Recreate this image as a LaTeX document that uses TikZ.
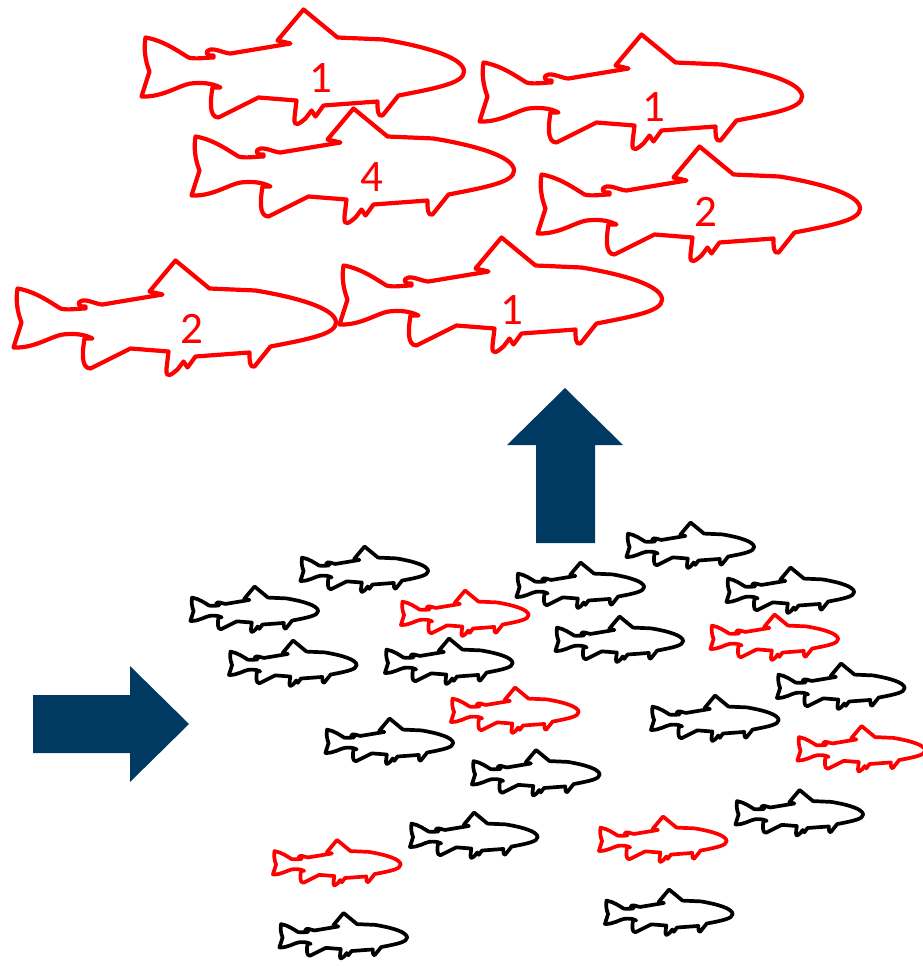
\documentclass[tikz,border=0pt]{standalone}
\usepackage{fontspec}
\setmainfont{Carlito}
\definecolor{navy}{HTML}{003A63}
\tikzset{
  x=1pt,y=-1pt,
  bigfish/.style={draw=red,line width=4.2pt,line join=round},
  smallfish/.style={line width=3.7pt,line join=round},
  count/.style={text=red,font=\fontsize{45}{45}\selectfont,inner sep=0pt},
  blockarrow/.style={fill=navy,draw=none}
}
\newcommand{\fishpath}{
  (5,28) .. controls (23,31) and (38,42) .. (48,48)
  .. controls (55,50) and (65,48) .. (73,48)
  -- (73,46) .. controls (65,47) and (64,41) .. (70,40)
  .. controls (75,39) and (85,44) .. (90,44)
  -- (150,34) -- (137,31) -- (163,0) -- (197,28)
  -- (243,30) .. controls (285,37) and (323.5,48) .. (323.5,62)
  .. controls (323.5,73) and (300,78) .. (258,86)
  -- (242,106) .. controls (237,108) and (237,100) .. (237,92)
  -- (183,96) -- (175,107) -- (171,101) -- (165,109)
  .. controls (160,113) and (153,120) .. (154,108)
  -- (156,91) -- (118,88) -- (78,108)
  .. controls (68,108) and (70,90) .. (72,78)
  -- (80,78) .. controls (70,73) and (60,73) .. (50,74)
  .. controls (38,76) and (22,88) .. (1,87)
  -- (9,62) .. controls (5,52) and (3,40) .. (5,28) -- cycle
}
\newcommand{\bigf}[2]{\draw[bigfish,shift={(#1,#2)}] \fishpath;}
\newcommand{\smallf}[3]{\draw[smallfish,draw=#3,shift={(#1,#2)},scale=0.396] \fishpath;}
\begin{document}
\begin{tikzpicture}
\useasboundingbox (0,0) rectangle (923,966);
\bigf{140.5}{9.5}
\bigf{478.5}{34.5}
\bigf{190.5}{108.5}
\bigf{536.5}{146.5}
\bigf{12.5}{260.5}
\bigf{338.5}{237.5}
\node[count] (n1) at (321,78) {1};
\node[count] (n2) at (654,107) {1};
\node[count] (n3) at (372,177) {4};
\node[count] (n4) at (706,212) {2};
\node[count] (n5) at (192,329) {2};
\node[count] (n6) at (512,310) {1};
\fill[blockarrow] (565,388) -- (623,445) -- (595,445) -- (595,543) -- (536,543) -- (536,445) -- (507,445) -- cycle;
\fill[blockarrow] (33,695) -- (130,695) -- (130,666) -- (189,724) -- (130,782) -- (130,753) -- (33,753) -- cycle;
\smallf{300}{546.5}{black}
\smallf{190}{586.5}{black}
\smallf{228.5}{640.5}{black}
\smallf{400.5}{590.5}{red}
\smallf{384.5}{638.5}{black}
\smallf{516}{562.5}{black}
\smallf{555}{616.5}{black}
\smallf{626}{522.5}{black}
\smallf{726}{567.5}{black}
\smallf{710}{614.5}{red}
\smallf{776.5}{663.5}{black}
\smallf{650.5}{695.5}{black}
\smallf{450.5}{687.5}{red}
\smallf{325}{718.5}{black}
\smallf{471.5}{750}{black}
\smallf{797}{726}{red}
\smallf{735}{790}{black}
\smallf{409.5}{812.5}{black}
\smallf{598.5}{816.5}{red}
\smallf{272.5}{840}{red}
\smallf{604.5}{889.5}{black}
\smallf{279}{913}{black}
\end{tikzpicture}
\end{document}
